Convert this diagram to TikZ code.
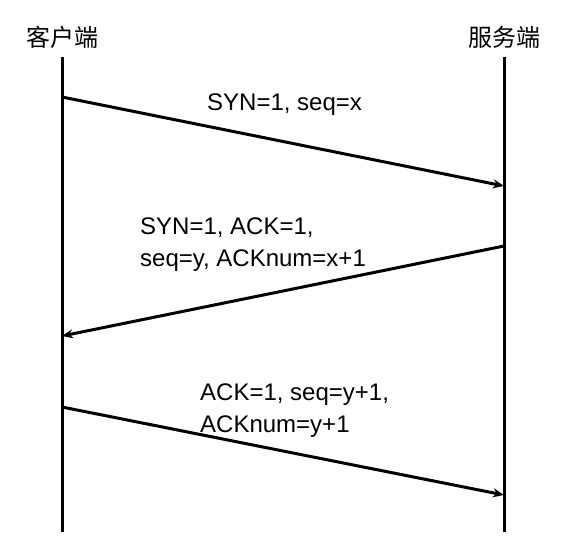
\documentclass[tikz,border=0pt]{standalone}
\usepackage{fontspec}
\setmainfont{Liberation Sans}
\newfontfamily\cjk{Noto Sans CJK SC}
\usetikzlibrary{arrows.meta}

\begin{document}
\begin{tikzpicture}[>={Stealth[length=11pt,width=9pt]},x=1pt,y=-1pt,inner sep=0pt,
  font=\fontsize{24}{32}\selectfont]
\useasboundingbox (0,0) rectangle (570,557);
\coordinate (Ct) at (62,57);
\coordinate (Cb) at (62,532);
\coordinate (St) at (504,57);
\coordinate (Sb) at (504,532);
\coordinate (C1) at (62,97);
\coordinate (S1) at (504,186);
\coordinate (S2) at (504,246);
\coordinate (C2) at (62,336);
\coordinate (C3) at (62,407);
\coordinate (S3) at (504,495);

%% C = client, S = server

\node[font=\cjk\fontsize{24}{28}\selectfont] (client) at (62,37) {客户端};
\node[font=\cjk\fontsize{24}{28}\selectfont] (server) at (504,37) {服务端};

\draw[line width=3pt] (Ct)--(Cb);
\draw[line width=3pt] (St)--(Sb);

\draw[line width=3pt,->] (C1)--(S1);
\draw[line width=3pt,->] (S2)--(C2);
\draw[line width=3pt,->] (C3)--(S3);

\node[anchor=west,align=left] (syn) at (207,105) {SYN=1, seq=x};
\node[anchor=west,align=left] (synack) at (140,245) {SYN=1, ACK=1,\\seq=y, ACKnum=x+1};
\node[anchor=west,align=left] (ack) at (200,411) {ACK=1, seq=y+1,\\ACKnum=y+1};
\end{tikzpicture}
\end{document}
